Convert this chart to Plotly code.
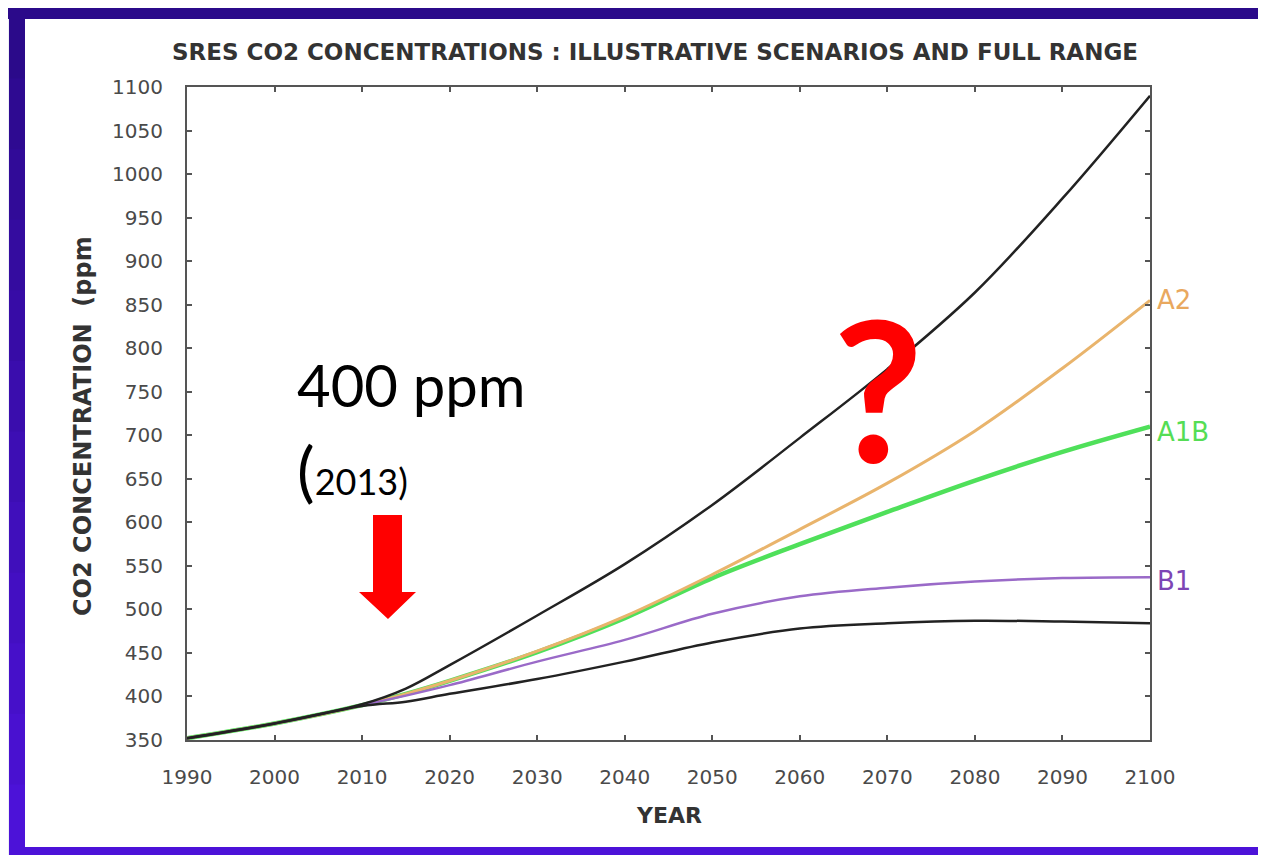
import plotly.graph_objects as go

# ---------------- data ----------------
years = [1990, 2000, 2010, 2015, 2020, 2030, 2040, 2050, 2060, 2070, 2080, 2090, 2100]
upper = [352, 369, 391, 409, 436, 493, 552, 620, 697, 776, 864, 972, 1090]
a2 = [352, 369, 390, 403, 418, 452, 492, 540, 592, 645, 705, 777, 855]
a1b = [352, 369, 390, 403, 418, 451, 490, 536, 575, 612, 648, 681, 710]
b1 = [352, 369, 390, 401, 413, 440, 465, 495, 515, 525, 532, 536, 537]
lower = [352, 369, 389, 394, 403, 420, 440, 462, 478, 484, 487, 486, 484]

x_ticks = list(range(1990, 2101, 10))
y_ticks = list(range(350, 1101, 50))
series_labels = ["A2", "A1B", "B1"]

# ---------------- layout geometry (page pixels; page has an 8px body margin) ----------------
OFF = 8
W, H = 1266 - OFF, 855 - OFF
L, R, T, B = 187, 1150, 87, 740   # plot area in page pixels


def xp(px):
    return (px - L) / (R - L)


def yp(py):
    return (B - py) / (B - T)


fig = go.Figure()

line_specs = [
    (a1b, "#4fe05a", 4.5),
    (a2, "#e9b46c", 3),
    (b1, "#9a6ac8", 2.5),
    (lower, "#222222", 2.5),
    (upper, "#222222", 2.5),
]
for ys, col, w in line_specs:
    fig.add_trace(go.Scatter(x=years, y=ys, mode="lines",
                             line=dict(color=col, width=w, shape="spline", smoothing=1.0),
                             hoverinfo="skip", showlegend=False))

axis_common = dict(showline=True, linecolor="#555555", linewidth=2, mirror="ticks",
                   ticks="inside", ticklen=5, tickwidth=1.5, tickcolor="#555555",
                   showgrid=False, zeroline=False,
                   tickfont=dict(family="DejaVu Sans", size=20, color="#4a4a4a"))

fig.update_xaxes(range=[1990, 2100], tickvals=x_ticks, ticklabelstandoff=18, **axis_common)
fig.update_yaxes(range=[350, 1100], tickvals=y_ticks, ticklabelstandoff=18, **axis_common)

annotations = []
# axis titles
annotations.append(dict(text="YEAR", xref="paper", yref="paper", x=0.5, y=yp(815),
                        showarrow=False, xanchor="center", yanchor="middle",
                        font=dict(family="DejaVu Sans", size=22, color="#333333", weight="bold")))
annotations.append(dict(text="CO2 CONCENTRATION  (ppm", xref="paper", yref="paper",
                        x=xp(83), y=yp(426), textangle=-90, showarrow=False,
                        xanchor="center", yanchor="middle",
                        font=dict(family="DejaVu Sans", size=24, color="#333333", weight="bold")))

# series labels at right end
label_cols = ["#e9a85e", "#55dd55", "#7d45b5"]
label_vals = [a2[-1], a1b[-1] - 6, b1[-1] - 4]
for txt, col, v in zip(series_labels, label_cols, label_vals):
    annotations.append(dict(text=txt, x=years[-1], y=v, xref="x", yref="y",
                            showarrow=False, xanchor="left", yanchor="middle", xshift=5,
                            font=dict(family="DejaVu Sans", size=26, color=col)))

# overlaid text
annotations.append(dict(text="400 ppm", xref="paper", yref="paper", x=xp(295), y=yp(385),
                        showarrow=False, xanchor="left", yanchor="middle",
                        font=dict(family="Lato", size=58, color="#000000")))
annotations.append(dict(text="(<span style='font-size:36px'>2013)</span>", xref="paper", yref="paper",
                        x=xp(295), y=yp(470), showarrow=False, xanchor="left", yanchor="middle",
                        font=dict(family="Lato", size=66, color="#000000")))
annotations.append(dict(text="?", xref="paper", yref="paper", x=xp(878), y=yp(387),
                        showarrow=False, xanchor="center", yanchor="middle",
                        font=dict(family="Lato", size=196, color="#ff0000", weight="bold")))

# red block arrow (pixel geometry)
arrow_pts = [(373, 515), (402, 515), (402, 592), (416, 592), (388, 619),
             (359, 592), (373, 592)]
path = "M " + " L ".join(f"{xp(px):.5f},{yp(py):.5f}" for px, py in arrow_pts) + " Z"

shapes = [dict(type="path", path=path, xref="paper", yref="paper",
               fillcolor="#ff0000", line=dict(width=0), layer="above")]


# frame decoration (page pixels)
def rect(x0, y0, x1, y1, col):
    return dict(type="rect", xref="paper", yref="paper", x0=xp(x0), x1=xp(x1),
                y0=yp(y1), y1=yp(y0), fillcolor=col, line=dict(width=0), layer="above")


shapes.append(rect(OFF, OFF, OFF + 1, 855, "#eef1f6"))
shapes.append(rect(OFF, OFF, 1266, 19, "#2b0a8a"))
c0 = (0x2b, 0x0a, 0x8a)
c1 = (0x4c, 0x12, 0xd8)
n = 12
for i in range(n):
    t = i / (n - 1)
    col = "#%02x%02x%02x" % tuple(int(a + (b_ - a) * t) for a, b_ in zip(c0, c1))
    y0 = OFF + (855 - OFF) * i / n
    y1 = OFF + (855 - OFF) * (i + 1) / n + 1
    shapes.append(rect(OFF + 1, y0, 25, y1, col))
shapes.append(rect(OFF + 1, 847, 1266, 855, "#4c12d8"))

fig.update_layout(
    width=W, height=H, autosize=False,
    margin=dict(l=L - OFF, r=1266 - R, t=T - OFF, b=855 - B),
    paper_bgcolor="white", plot_bgcolor="white",
    title=dict(text="SRES CO2 CONCENTRATIONS : ILLUSTRATIVE SCENARIOS AND FULL RANGE",
               x=(655 - OFF) / W, xanchor="center", y=1 - (52 - OFF) / H, yanchor="middle",
               font=dict(family="DejaVu Sans", size=23, color="#333333", weight="bold")),
    annotations=annotations,
    shapes=shapes,
)

fig.write_html("out.html")
